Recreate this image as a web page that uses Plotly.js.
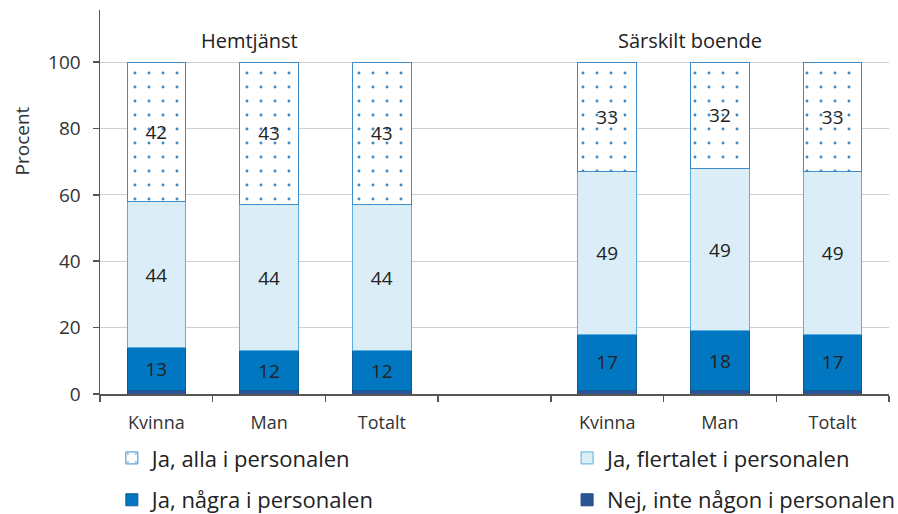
<!DOCTYPE html>
<html>
<head>
<meta charset="utf-8">
<script src="https://cdn.plot.ly/plotly-3.0.1.min.js"></script>
<style>
  body { margin: 0; background: #fff; }
  #chart { width: 898px; height: 514px; }
</style>
</head>
<body>
<div id="chart"></div>
<script>
// categories along the x axis (the empty one is the gap between the groups)
var categories = ["Kvinna", "Man", "Totalt", "", "Kvinna", "Man", "Totalt"];
var groups = ["Hemtjänst", "Särskilt boende"];

// share (%) per answer, bottom to top of each stack
var nej = [1, 1, 1, null, 1, 1, 1];
var nagra = [13, 12, 12, null, 17, 18, 17];
var flertalet = [44, 44, 44, null, 49, 49, 49];
var alla = [42, 43, 43, null, 33, 32, 33];

var yTicks = [0, 20, 40, 60, 80, 100];

var font = "Open Sans, sans-serif";
var xPos = categories.map((c, i) => i);
var boundaries = categories.concat([""]).map((c, i) => i - 0.5);

function labels(vals) {
  return vals.map(v => v == null ? "" : String(v));
}

var common = {
  x: xPos,
  type: "bar",
  width: 0.52,
  hoverinfo: "skip",
  textposition: "inside",
  insidetextanchor: "middle",
  textfont: { family: font, size: 19, color: "#222" }
};

var trNej = Object.assign({}, common, {
  y: nej,
  name: "Nej, inte någon i personalen",
  marker: { color: "#2c5597", line: { color: "#24477d", width: 1 } },
  textposition: "none",
  legend: "legend4"
});
var trNagra = Object.assign({}, common, {
  y: nagra,
  text: labels(nagra),
  name: "Ja, några i personalen",
  marker: { color: "#0077c0", line: { color: "#0d5d94", width: 1 } },
  legend: "legend3"
});
var trFlertalet = Object.assign({}, common, {
  y: flertalet,
  text: labels(flertalet),
  name: "Ja, flertalet i personalen",
  marker: { color: "#dbeef8", line: { color: "#58aee0", width: 1 } },
  legend: "legend2"
});
var trAlla = Object.assign({}, common, {
  y: alla,
  text: labels(alla),
  name: "Ja, alla i personalen",
  marker: {
    color: "#ffffff",
    line: { color: "#3d8cc9", width: 1 },
    pattern: { shape: ".", fgcolor: "#3d8cc9", bgcolor: "#ffffff", size: 14, solidity: 0.035 }
  },
  legend: "legend"
});

var data = [trNej, trNagra, trFlertalet, trAlla];

function legendAt(x, y) {
  return {
    x: x, y: y, xanchor: "left", yanchor: "middle",
    bgcolor: "rgba(0,0,0,0)",
    font: { family: font, size: 22, color: "#222" }
  };
}

var layout = {
  width: 898,
  height: 514,
  margin: { l: 100, r: 9, t: 10, b: 120, autoexpand: false },
  paper_bgcolor: "#fff",
  plot_bgcolor: "#fff",
  barmode: "stack",
  font: { family: font, color: "#333" },
  showlegend: true,
  legend: legendAt(0.015, -0.167),
  legend2: legendAt(0.592, -0.167),
  legend3: legendAt(0.015, -0.276),
  legend4: legendAt(0.592, -0.276),
  xaxis: {
    range: [-0.5, categories.length - 0.5],
    tickmode: "array",
    tickvals: xPos,
    ticktext: categories,
    ticks: "",
    ticklabelstandoff: 12,
    showgrid: false,
    zeroline: false,
    showline: true,
    linecolor: "#555",
    linewidth: 1.5,
    tickfont: { family: font, size: 18, color: "#333" },
    minor: { tickmode: "array", tickvals: boundaries, ticks: "outside", ticklen: 6, tickcolor: "#555", tickwidth: 1.5, showgrid: false }
  },
  yaxis: {
    range: [0, 115.7],
    tickmode: "array",
    tickvals: yTicks,
    ticks: "outside",
    ticklen: 6,
    tickcolor: "#555",
    tickwidth: 1.5,
    ticklabelstandoff: 8,
    showline: true,
    linecolor: "#555",
    linewidth: 1.5,
    gridcolor: "#cfcfcf",
    gridwidth: 1,
    zeroline: false,
    tickfont: { family: font, size: 19, color: "#333" }
  },
  annotations: [
    { text: groups[0], x: 0.83, y: 106.6, xref: "x", yref: "y", showarrow: false,
      font: { family: font, size: 20, color: "#222" } },
    { text: groups[1], x: 4.73, y: 106.6, xref: "x", yref: "y", showarrow: false,
      font: { family: font, size: 20, color: "#222" } },
    // y axis title sits near the top of the axis in the original
    { text: "Procent", textangle: -90, x: -0.118, y: 0.755, xref: "paper", yref: "paper",
      showarrow: false, font: { family: font, size: 19, color: "#333" } }
  ]
};

Plotly.newPlot("chart", data, layout, { displayModeBar: false, staticPlot: true });
</script>
</body>
</html>
